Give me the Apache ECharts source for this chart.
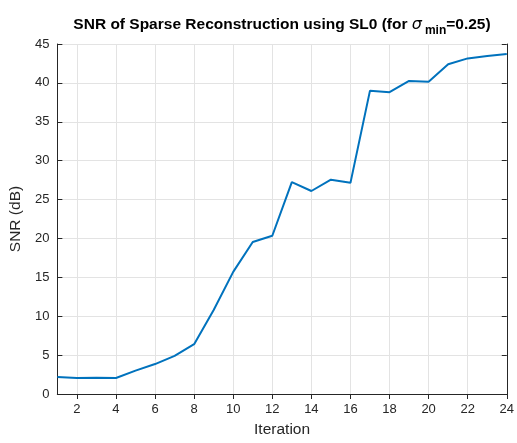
<!DOCTYPE html>
<html><head><meta charset="utf-8">
<script src="https://cdn.jsdelivr.net/npm/echarts@6/dist/echarts.min.js"></script>
<style>html,body{margin:0;padding:0;background:#fff}#c{width:517px;height:443px}</style>
</head><body><div id="c"></div>
<script>
const iterations = [1,2,3,4,5,6,7,8,9,10,11,12,13,14,15,16,17,18,19,20,21,22,23,24];
const snrValues = [2.2,2.05,2.1,2.05,3.0,3.85,4.9,6.4,10.8,15.7,19.55,20.35,27.25,26.1,27.55,27.15,39.0,38.8,40.25,40.15,42.4,43.15,43.45,43.7];
const xTicks = [2,4,6,8,10,12,14,16,18,20,22,24];
const yTicks = [0,5,10,15,20,25,30,35,40,45];

const chart = echarts.init(document.getElementById('c'));
const font = 'Liberation Sans, Helvetica, Arial, sans-serif';
const gridColor = '#e3e3e3';
const axisCommon = {
  axisLine:{show:true,lineStyle:{color:'#262626',width:1}},
  axisTick:{show:true,inside:true,length:5,lineStyle:{color:'#262626'}},
};
chart.setOption({
  animation:false,
  title:{
    text:'{a|SNR of Sparse Reconstruction using SL0 (for }{s|σ}{sub|min}{a|=0.25)}',
    left:277, top:7, textAlign:'center',
    textStyle:{
      rich:{
        a:{fontFamily:font,fontWeight:'bold',fontSize:15.5,color:'#000',lineHeight:20},
        s:{fontFamily:'DejaVu Sans, sans-serif',fontStyle:'italic',fontWeight:'normal',fontSize:16,color:'#000',lineHeight:20},
        sub:{fontFamily:font,fontWeight:'bold',fontSize:12,color:'#000',padding:[13,0,0,3],verticalAlign:'bottom'}
      }
    }
  },
  grid:{left:53.5,right:6.5,top:44,bottom:39,containLabel:false},
  xAxis:[{
    type:'value',min:1,max:24,position:'bottom',
    name:'Iteration',nameLocation:'middle',nameGap:28,
    nameTextStyle:{fontFamily:font,fontSize:15.5,color:'#262626'},
    ...axisCommon,
    axisTick:{...axisCommon.axisTick,customValues:xTicks},
    axisLabel:{customValues:xTicks,fontFamily:font,fontSize:13,color:'#262626',margin:9},
    splitLine:{show:false}
  },{
    type:'value',min:1,max:24,position:'top',
    ...axisCommon,
    axisTick:{...axisCommon.axisTick,customValues:xTicks},
    axisLabel:{show:false,customValues:xTicks},
    splitLine:{show:false}
  }],
  yAxis:[{
    type:'value',min:0,max:45,interval:5,position:'left',
    name:'SNR (dB)',nameLocation:'middle',nameGap:29,
    nameTextStyle:{fontFamily:font,fontSize:15.5,color:'#262626'},
    ...axisCommon,
    axisLabel:{fontFamily:font,fontSize:13,color:'#262626',margin:8},
    splitLine:{show:true,lineStyle:{color:gridColor,width:1}}
  },{
    type:'value',min:0,max:45,interval:5,position:'right',
    ...axisCommon,
    axisLabel:{show:false},
    splitLine:{show:false}
  }],
  series:[{
    type:'line',
    data:[],
    z:1,
    markLine:{
      z:1,
      silent:true,symbol:'none',label:{show:false},
      lineStyle:{color:gridColor,width:1,type:'solid'},
      data:xTicks.filter(v=>v<24).map(v=>({xAxis:v}))
    }
  },{
    type:'line',
    z:3,
    data:iterations.map((x,i)=>[x,snrValues[i]]),
    showSymbol:false,symbol:'none',
    lineStyle:{color:'#0072BD',width:2},
    xAxisIndex:0,yAxisIndex:0
  }]
});
</script></body></html>
